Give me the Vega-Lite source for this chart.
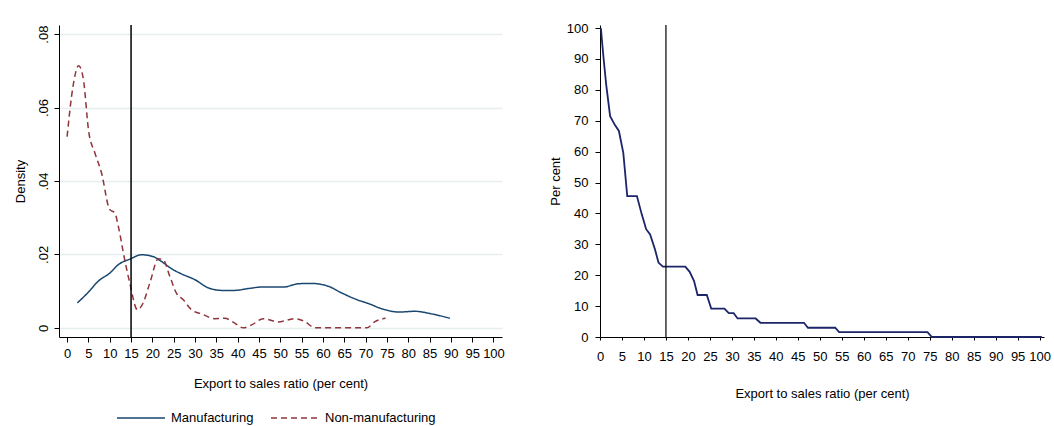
{
  "$schema": "https://vega.github.io/schema/vega-lite/v6.json",
  "background": "white",
  "padding": {"left": 14, "top": 22, "right": 5, "bottom": 2},
  "spacing": 44,
  "config": {
    "view": {"stroke": null},
    "font": "Liberation Sans",
    "axis": {
      "domainColor": "black",
      "tickColor": "black",
      "labelColor": "black",
      "titleColor": "black",
      "titleFontWeight": "normal",
      "labelFontSize": 13,
      "titleFontSize": 13,
      "grid": false
    }
  },
  "datasets": {
    "density": [
      {"x": 2.4, "d": 0.0068, "series": "Manufacturing"},
      {"x": 4.9, "d": 0.0096, "series": "Manufacturing"},
      {"x": 7.3, "d": 0.0127, "series": "Manufacturing"},
      {"x": 10.0, "d": 0.0149, "series": "Manufacturing"},
      {"x": 12.0, "d": 0.0172, "series": "Manufacturing"},
      {"x": 14.9, "d": 0.0188, "series": "Manufacturing"},
      {"x": 17.4, "d": 0.0199, "series": "Manufacturing"},
      {"x": 20.2, "d": 0.0194, "series": "Manufacturing"},
      {"x": 22.1, "d": 0.0181, "series": "Manufacturing"},
      {"x": 24.5, "d": 0.0161, "series": "Manufacturing"},
      {"x": 26.8, "d": 0.0147, "series": "Manufacturing"},
      {"x": 30.0, "d": 0.0131, "series": "Manufacturing"},
      {"x": 33.1, "d": 0.0109, "series": "Manufacturing"},
      {"x": 36.2, "d": 0.0102, "series": "Manufacturing"},
      {"x": 39.3, "d": 0.0102, "series": "Manufacturing"},
      {"x": 42.5, "d": 0.0107, "series": "Manufacturing"},
      {"x": 45.6, "d": 0.0111, "series": "Manufacturing"},
      {"x": 50.7, "d": 0.0111, "series": "Manufacturing"},
      {"x": 54.2, "d": 0.0120, "series": "Manufacturing"},
      {"x": 57.3, "d": 0.0121, "series": "Manufacturing"},
      {"x": 61.3, "d": 0.0113, "series": "Manufacturing"},
      {"x": 64.4, "d": 0.0095, "series": "Manufacturing"},
      {"x": 67.9, "d": 0.0077, "series": "Manufacturing"},
      {"x": 70.7, "d": 0.0066, "series": "Manufacturing"},
      {"x": 73.8, "d": 0.0052, "series": "Manufacturing"},
      {"x": 77.7, "d": 0.0043, "series": "Manufacturing"},
      {"x": 81.6, "d": 0.0045, "series": "Manufacturing"},
      {"x": 85.5, "d": 0.0038, "series": "Manufacturing"},
      {"x": 89.8, "d": 0.0026, "series": "Manufacturing"},
      {"x": 0.0, "d": 0.0521, "series": "Non-manufacturing"},
      {"x": 1.4, "d": 0.0659, "series": "Non-manufacturing"},
      {"x": 2.7, "d": 0.0714, "series": "Non-manufacturing"},
      {"x": 3.75, "d": 0.0682, "series": "Non-manufacturing"},
      {"x": 5.1, "d": 0.0532, "series": "Non-manufacturing"},
      {"x": 6.5, "d": 0.0477, "series": "Non-manufacturing"},
      {"x": 8.05, "d": 0.0423, "series": "Non-manufacturing"},
      {"x": 10.0, "d": 0.0322, "series": "Non-manufacturing"},
      {"x": 11.2, "d": 0.0313, "series": "Non-manufacturing"},
      {"x": 12.0, "d": 0.0277, "series": "Non-manufacturing"},
      {"x": 13.5, "d": 0.0186, "series": "Non-manufacturing"},
      {"x": 14.7, "d": 0.0122, "series": "Non-manufacturing"},
      {"x": 16.5, "d": 0.0049, "series": "Non-manufacturing"},
      {"x": 17.8, "d": 0.0067, "series": "Non-manufacturing"},
      {"x": 19.4, "d": 0.0122, "series": "Non-manufacturing"},
      {"x": 21.4, "d": 0.0188, "series": "Non-manufacturing"},
      {"x": 22.5, "d": 0.0186, "series": "Non-manufacturing"},
      {"x": 24.1, "d": 0.0140, "series": "Non-manufacturing"},
      {"x": 25.7, "d": 0.0093, "series": "Non-manufacturing"},
      {"x": 27.2, "d": 0.0077, "series": "Non-manufacturing"},
      {"x": 29.2, "d": 0.0049, "series": "Non-manufacturing"},
      {"x": 31.5, "d": 0.0038, "series": "Non-manufacturing"},
      {"x": 34.6, "d": 0.0025, "series": "Non-manufacturing"},
      {"x": 37.0, "d": 0.0026, "series": "Non-manufacturing"},
      {"x": 39.3, "d": 0.0013, "series": "Non-manufacturing"},
      {"x": 41.3, "d": 0.0, "series": "Non-manufacturing"},
      {"x": 43.3, "d": 0.0008, "series": "Non-manufacturing"},
      {"x": 46.0, "d": 0.0025, "series": "Non-manufacturing"},
      {"x": 49.5, "d": 0.0016, "series": "Non-manufacturing"},
      {"x": 53.4, "d": 0.0025, "series": "Non-manufacturing"},
      {"x": 55.8, "d": 0.0017, "series": "Non-manufacturing"},
      {"x": 58.1, "d": 0.0, "series": "Non-manufacturing"},
      {"x": 70.3, "d": 0.0, "series": "Non-manufacturing"},
      {"x": 72.2, "d": 0.0017, "series": "Non-manufacturing"},
      {"x": 74.7, "d": 0.0026, "series": "Non-manufacturing"}
    ],
    "cumul": [
      {"x": 0.2, "p": 100}, {"x": 0.8, "p": 90.4}, {"x": 1.4, "p": 81.8},
      {"x": 2.3, "p": 71.5}, {"x": 3.4, "p": 68.6}, {"x": 4.3, "p": 66.7},
      {"x": 5.3, "p": 59.6}, {"x": 6.2, "p": 45.6}, {"x": 8.4, "p": 45.6},
      {"x": 9.5, "p": 39.7}, {"x": 10.5, "p": 34.9}, {"x": 11.4, "p": 33.2},
      {"x": 12.5, "p": 28.4}, {"x": 13.3, "p": 24.1}, {"x": 14.3, "p": 22.8},
      {"x": 19.4, "p": 22.8}, {"x": 20.4, "p": 21.1}, {"x": 21.4, "p": 18.1},
      {"x": 22.2, "p": 13.6}, {"x": 24.3, "p": 13.6}, {"x": 25.3, "p": 9.2},
      {"x": 28.3, "p": 9.2}, {"x": 29.3, "p": 7.7}, {"x": 30.4, "p": 7.7},
      {"x": 31.3, "p": 6.0}, {"x": 35.4, "p": 6.0}, {"x": 36.5, "p": 4.6},
      {"x": 46.4, "p": 4.6}, {"x": 47.3, "p": 3.0}, {"x": 53.5, "p": 3.0},
      {"x": 54.4, "p": 1.6}, {"x": 74.5, "p": 1.6}, {"x": 75.5, "p": 0},
      {"x": 100.5, "p": 0}
    ],
    "cut": [{"x": 15}]
  },
  "hconcat": [
    {
      "width": 443,
      "height": 312,
      "encoding": {
        "x": {
          "field": "x", "type": "quantitative",
          "scale": {"domain": [-1.9, 102], "nice": false, "zero": false},
          "axis": {
            "title": "Export to sales ratio (per cent)",
            "values": [0,5,10,15,20,25,30,35,40,45,50,55,60,65,70,75,80,85,90,95,100],
            "tickSize": 5, "labelPadding": 5, "titlePadding": 17,
            "labelFlush": false, "labelOverlap": false
          }
        }
      },
      "layer": [
        {
          "data": {"name": "density"},
          "mark": {"type": "line", "interpolate": "monotone", "strokeWidth": 1.5},
          "encoding": {
            "y": {
              "field": "d", "type": "quantitative",
              "scale": {"domain": [-0.0025, 0.0825], "nice": false, "zero": false},
              "axis": {
                "title": "Density",
                "values": [0, 0.02, 0.04, 0.06, 0.08],
                "labelExpr": "datum.value == 0 ? '0' : replace(format(datum.value, '.2f'), '0.', '.')",
                "labelAngle": -90, "labelAlign": "center", "labelBaseline": "bottom",
                "tickSize": 5, "labelPadding": 4, "titlePadding": 10,
                "grid": true, "gridColor": "#e6eef0", "gridWidth": 1.5,
                "labelFlush": false, "labelOverlap": false
              }
            },
            "color": {
              "field": "series", "type": "nominal",
              "scale": {"domain": ["Manufacturing", "Non-manufacturing"], "range": ["#1a476f", "#90353b"]},
              "legend": {
                "title": null, "orient": "none", "direction": "horizontal",
                "legendX": 57, "legendY": 368,
                "symbolType": "stroke", "symbolSize": 2304, "symbolStrokeWidth": 1.5,
                "labelFontSize": 13, "labelColor": "black", "labelOffset": 5, "columnPadding": 14
              }
            },
            "strokeDash": {
              "field": "series", "type": "nominal",
              "scale": {"domain": ["Manufacturing", "Non-manufacturing"], "range": [[1, 0], [6, 4]]},
              "legend": {
                "title": null, "orient": "none", "direction": "horizontal",
                "legendX": 57, "legendY": 368,
                "symbolType": "stroke", "symbolSize": 2304, "symbolStrokeWidth": 1.5,
                "labelFontSize": 13, "labelColor": "black", "labelOffset": 5, "columnPadding": 14
              }
            }
          }
        },
        {
          "data": {"name": "cut"},
          "mark": {"type": "rule", "color": "black", "strokeWidth": 1.5},
          "encoding": {}
        }
      ]
    },
    {
      "width": 444,
      "height": 312,
      "encoding": {
        "x": {
          "field": "x", "type": "quantitative",
          "scale": {"domain": [0, 101], "nice": false, "zero": false},
          "axis": {
            "title": "Export to sales ratio (per cent)",
            "values": [0,5,10,15,20,25,30,35,40,45,50,55,60,65,70,75,80,85,90,95,100],
            "tickSize": 3, "labelPadding": 10, "titlePadding": 24,
            "labelFlush": false, "labelOverlap": false
          }
        }
      },
      "layer": [
        {
          "data": {"name": "cumul"},
          "mark": {"type": "line", "color": "#1b2568", "strokeWidth": 1.8},
          "encoding": {
            "y": {
              "field": "p", "type": "quantitative",
              "scale": {"domain": [0, 101], "nice": false, "zero": false},
              "axis": {
                "title": "Per cent",
                "values": [0,10,20,30,40,50,60,70,80,90,100],
                "tickSize": 5, "labelPadding": 7, "titlePadding": 4,
                "labelFlush": false, "labelOverlap": false
              }
            }
          }
        },
        {
          "data": {"name": "cut"},
          "mark": {"type": "rule", "color": "black", "strokeWidth": 1.2},
          "encoding": {}
        }
      ]
    }
  ],
  "resolve": {
    "scale": {"color": "independent", "strokeDash": "independent"},
    "legend": {"color": "independent", "strokeDash": "independent"}
  }
}
